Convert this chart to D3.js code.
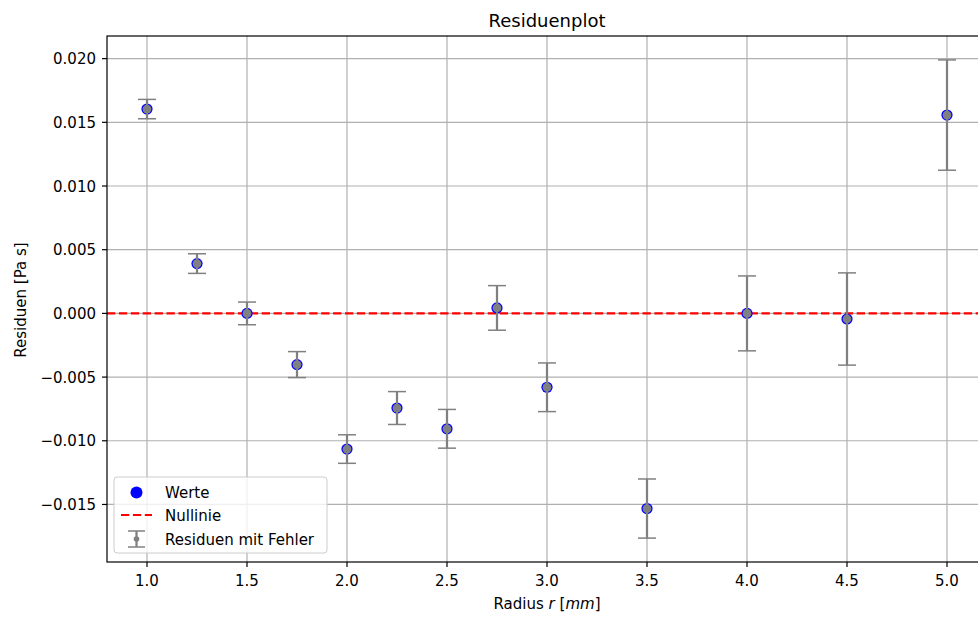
<!DOCTYPE html>
<html>
<head>
<meta charset="utf-8">
<script src="https://cdn.jsdelivr.net/npm/d3@7"></script>
<style>
	body { margin: 0; background: #fff; }
	svg { display: block; font-family: "DejaVu Sans", sans-serif; }
</style>
</head>
<body>
<div id="canvas"></div>
<script>
var radius = [1.0, 1.25, 1.5, 1.75, 2.0, 2.25, 2.5, 2.75, 3.0, 3.5, 4.0, 4.5, 5.0];
var residuals = [0.01604, 0.00391, 0.0000, -0.00402, -0.01065, -0.00743, -0.00906, 0.00043, -0.0058, -0.01532, 0.0000, -0.00044, 0.01557];
var errors = [0.00076, 0.00077, 0.00089, 0.00102, 0.00112, 0.00129, 0.00152, 0.00175, 0.00191, 0.00232, 0.00294, 0.00362, 0.00433];
var xTicks = [1.0, 1.5, 2.0, 2.5, 3.0, 3.5, 4.0, 4.5, 5.0];
var yTicks = [0.020, 0.015, 0.010, 0.005, 0.000, -0.005, -0.010, -0.015];
var legendLabels = ["Werte", "Nullinie", "Residuen mit Fehler"];

var width = 978, height = 619;
// plot area (right edge lies outside the picture, like the reference)
var axL = 107, axR = 987, axT = 36, axB = 562;

var svg = d3.select("#canvas")
	.append("svg")
	.attr("width", width)
	.attr("height", height);

// matplotlib style 5% margins
var xMin = d3.min(radius), xMax = d3.max(radius);
var xPad = (xMax - xMin) * 0.05;
var lo = d3.min(residuals, function(d, i){ return d - errors[i]; });
var hi = d3.max(residuals, function(d, i){ return d + errors[i]; });
var yPad = (hi - lo) * 0.05;

var x = d3.scaleLinear().domain([xMin - xPad, xMax + xPad]).range([axL, axR]);
var y = d3.scaleLinear().domain([lo - yPad, hi + yPad]).range([axB, axT]);

svg.append("defs").append("clipPath").attr("id", "clip")
	.append("rect")
	.attr("x", axL).attr("y", axT)
	.attr("width", axR - axL).attr("height", axB - axT);

var plot = svg.append("g").attr("clip-path", "url(#clip)");

// grid
plot.selectAll("line.gx")
	.data(xTicks)
	.enter()
	.append("line")
	.attr("x1", function(d){ return x(d); })
	.attr("x2", function(d){ return x(d); })
	.attr("y1", axT).attr("y2", axB)
	.attr("stroke", "#b0b0b0")
	.attr("stroke-width", 1.2);

plot.selectAll("line.gy")
	.data(yTicks)
	.enter()
	.append("line")
	.attr("x1", axL).attr("x2", axR)
	.attr("y1", function(d){ return y(d); })
	.attr("y2", function(d){ return y(d); })
	.attr("stroke", "#b0b0b0")
	.attr("stroke-width", 1.2);

// zero line
plot.append("line")
	.attr("x1", axL).attr("x2", axR)
	.attr("y1", y(0)).attr("y2", y(0))
	.attr("stroke", "red")
	.attr("stroke-width", 2.2)
	.attr("stroke-dasharray", "8.3,3.6");

// blue points
plot.selectAll("circle.val")
	.data(residuals)
	.enter()
	.append("circle")
	.attr("cx", function(d, i){ return x(radius[i]); })
	.attr("cy", function(d){ return y(d); })
	.attr("r", 5.6)
	.attr("fill", "blue");

// error bars
var eb = plot.selectAll("g.err")
	.data(residuals)
	.enter()
	.append("g");

eb.append("line")
	.attr("x1", function(d, i){ return x(radius[i]); })
	.attr("x2", function(d, i){ return x(radius[i]); })
	.attr("y1", function(d, i){ return y(d - errors[i]); })
	.attr("y2", function(d, i){ return y(d + errors[i]); })
	.attr("stroke", "gray")
	.attr("stroke-width", 2.25);

[-1, 1].forEach(function(s){
	eb.append("line")
		.attr("x1", function(d, i){ return x(radius[i]) - 9; })
		.attr("x2", function(d, i){ return x(radius[i]) + 9; })
		.attr("y1", function(d, i){ return y(d + s * errors[i]); })
		.attr("y2", function(d, i){ return y(d + s * errors[i]); })
		.attr("stroke", "gray")
		.attr("stroke-width", 1.5);
});

eb.append("circle")
	.attr("cx", function(d, i){ return x(radius[i]); })
	.attr("cy", function(d){ return y(d); })
	.attr("r", 4.4)
	.attr("fill", "gray");

// spines
svg.append("rect")
	.attr("x", axL).attr("y", axT)
	.attr("width", axR - axL).attr("height", axB - axT)
	.attr("fill", "none")
	.attr("stroke", "black")
	.attr("stroke-width", 1.2);

// ticks
svg.selectAll("line.tx")
	.data(xTicks)
	.enter()
	.append("line")
	.attr("x1", function(d){ return x(d); })
	.attr("x2", function(d){ return x(d); })
	.attr("y1", axB).attr("y2", axB + 5)
	.attr("stroke", "black")
	.attr("stroke-width", 1.2);

svg.selectAll("text.tx")
	.data(xTicks)
	.enter()
	.append("text")
	.text(function(d){ return d.toFixed(1); })
	.attr("x", function(d){ return x(d); })
	.attr("y", 586)
	.attr("text-anchor", "middle")
	.attr("font-size", 15)
	.attr("fill", "black");

svg.selectAll("line.ty")
	.data(yTicks)
	.enter()
	.append("line")
	.attr("x1", axL - 5).attr("x2", axL)
	.attr("y1", function(d){ return y(d); })
	.attr("y2", function(d){ return y(d); })
	.attr("stroke", "black")
	.attr("stroke-width", 1.2);

svg.selectAll("text.ty")
	.data(yTicks)
	.enter()
	.append("text")
	.text(function(d){ return (d < 0 ? "\u2212" : "") + Math.abs(d).toFixed(3); })
	.attr("x", 96)
	.attr("y", function(d){ return y(d) + 5.5; })
	.attr("text-anchor", "end")
	.attr("font-size", 15)
	.attr("fill", "black");

// title and axis labels
svg.append("text")
	.text("Residuenplot")
	.attr("x", (axL + axR) / 2)
	.attr("y", 27)
	.attr("text-anchor", "middle")
	.attr("font-size", 18);

var xl = svg.append("text")
	.attr("x", (axL + axR) / 2)
	.attr("y", 609)
	.attr("text-anchor", "middle")
	.attr("font-size", 15);
xl.append("tspan").text("Radius ");
xl.append("tspan").text("r").attr("font-style", "italic");
xl.append("tspan").text(" [");
xl.append("tspan").text("mm").attr("font-style", "italic");
xl.append("tspan").text("]");

svg.append("text")
	.text("Residuen [Pa s]")
	.attr("transform", "translate(26," + ((axT + axB) / 2 + 1) + ") rotate(-90)")
	.attr("text-anchor", "middle")
	.attr("font-size", 15);

// legend
var lg = svg.append("g");
lg.append("rect")
	.attr("x", 114).attr("y", 477)
	.attr("width", 213).attr("height", 76)
	.attr("rx", 3).attr("ry", 3)
	.attr("fill", "white").attr("fill-opacity", 0.8)
	.attr("stroke", "#cccccc").attr("stroke-width", 1);

var rowY = [492.5, 515, 539];
lg.append("circle")
	.attr("cx", 136.5).attr("cy", rowY[0])
	.attr("r", 6).attr("fill", "blue");
lg.append("line")
	.attr("x1", 121).attr("x2", 152)
	.attr("y1", rowY[1]).attr("y2", rowY[1])
	.attr("stroke", "red").attr("stroke-width", 2.2)
	.attr("stroke-dasharray", "8.3,3.6");
lg.append("line")
	.attr("x1", 136.5).attr("x2", 136.5)
	.attr("y1", 531).attr("y2", 547)
	.attr("stroke", "gray").attr("stroke-width", 2.25);
[531, 547].forEach(function(cy){
	lg.append("line")
		.attr("x1", 128).attr("x2", 145)
		.attr("y1", cy).attr("y2", cy)
		.attr("stroke", "gray").attr("stroke-width", 1.5);
});
lg.append("circle")
	.attr("cx", 136.5).attr("cy", rowY[2])
	.attr("r", 2.8).attr("fill", "gray");

lg.selectAll("text.lg")
	.data(legendLabels)
	.enter()
	.append("text")
	.text(function(d){ return d; })
	.attr("x", 165)
	.attr("y", function(d, i){ return rowY[i] + 5.5; })
	.attr("font-size", 15);
</script>
</body>
</html>
